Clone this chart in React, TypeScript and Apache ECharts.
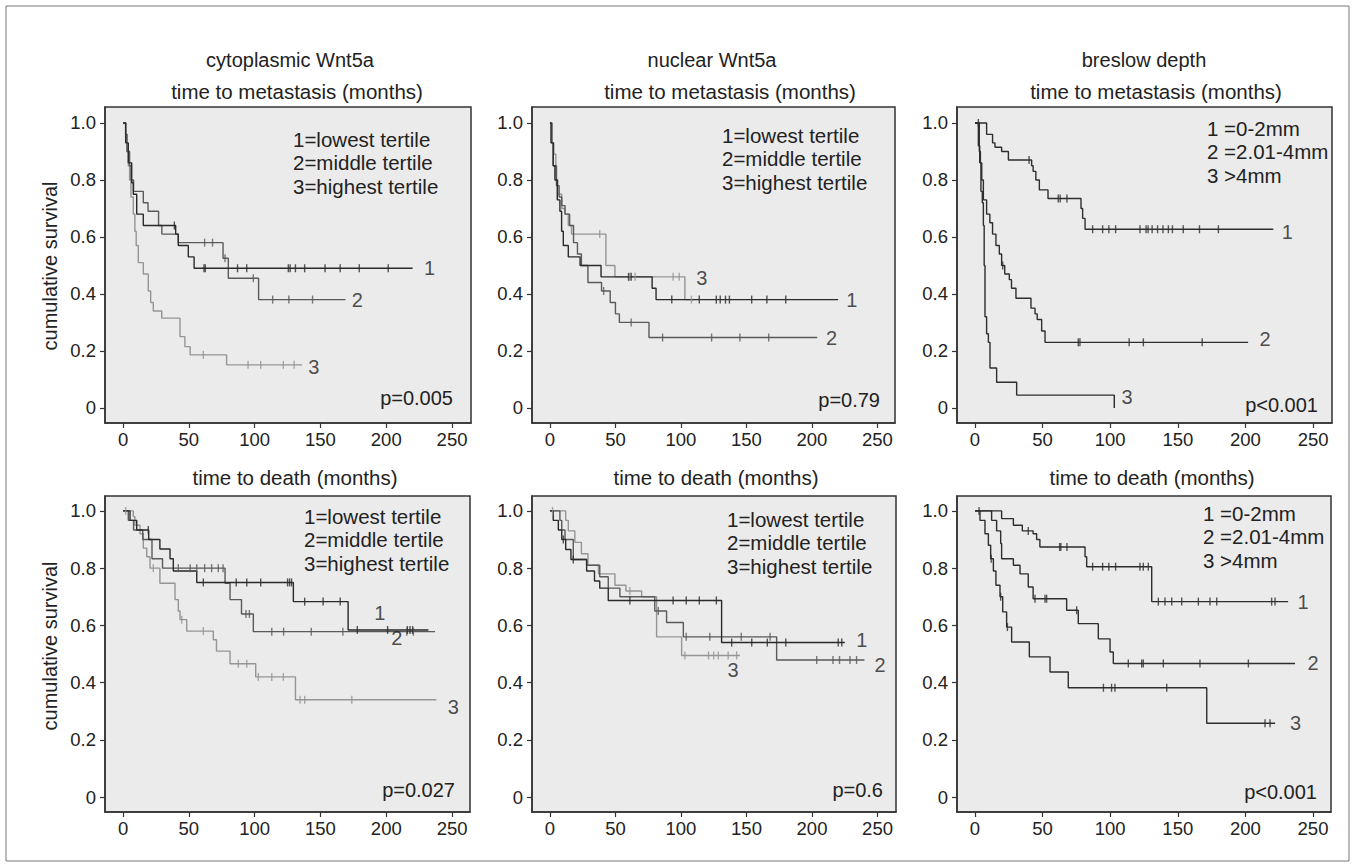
import React, { useEffect, useRef } from "react";
import * as echarts from "echarts";

type Pt = [number, number];

// ---------- tick labels / texts ----------
const xTicks = [0, 50, 100, 150, 200, 250];
const yTicks = [0, 0.2, 0.4, 0.6, 0.8, 1.0];
const columnTitles = ["cytoplasmic Wnt5a", "nuclear Wnt5a", "breslow depth"];
const rowTitles = ["time to metastasis (months)", "time to death (months)"];
const yAxisName = "cumulative survival";
const tertileLegend = ["1=lowest tertile", "2=middle tertile", "3=highest tertile"];
const breslowLegend = ["1 =0-2mm", "2 =2.01-4mm", "3 >4mm"];
const pValues = ["p=0.005", "p=0.79", "p<0.001", "p=0.027", "p=0.6", "p<0.001"];
const groupNames = ["1", "2", "3"];

// ---------- Kaplan-Meier step data [months, cumulative survival] ----------
// cytoplasmic Wnt5a, time to metastasis
const cytoMet1: Pt[] = [[0, 1], [2, 0.93], [4, 0.86], [6.6, 0.79], [7.8, 0.75], [10.4, 0.68], [15.4, 0.64], [40, 0.61], [42, 0.57], [49.6, 0.53], [54, 0.49], [220, 0.49]];
const cytoMet2: Pt[] = [[0, 1], [2, 0.96], [3, 0.9], [5, 0.85], [6, 0.8], [8, 0.76], [15.4, 0.72], [19, 0.69], [27, 0.64], [29.5, 0.61], [42, 0.58], [76, 0.525], [80, 0.455], [103, 0.38], [169, 0.38]];
const cytoMet3: Pt[] = [[0, 1], [2, 0.96], [3, 0.9], [4, 0.85], [5, 0.8], [6, 0.74], [7.8, 0.68], [9, 0.62], [10, 0.57], [11.6, 0.51], [15.4, 0.47], [19.2, 0.41], [21, 0.37], [23, 0.34], [29.4, 0.315], [43.3, 0.25], [47, 0.215], [51, 0.186], [78.7, 0.151], [136, 0.151]];
const cytoMet1Cens = [39, 61.5, 62.5, 87, 94, 125.6, 127, 131, 138, 153.5, 165, 179.5, 201.5];
const cytoMet2Cens = [62, 68, 77.5, 99, 113.7, 126, 144];
const cytoMet3Cens = [61, 95, 104.6, 121.8, 130];

// nuclear Wnt5a, time to metastasis
const nucMet1: Pt[] = [[0, 1], [0.8, 0.93], [2.5, 0.85], [3.8, 0.8], [5.6, 0.73], [7.6, 0.69], [8.9, 0.62], [10.2, 0.57], [14, 0.53], [23, 0.5], [39, 0.46], [78, 0.42], [81, 0.38], [220, 0.38]];
const nucMet2: Pt[] = [[0, 1], [1.5, 0.93], [2.5, 0.85], [5, 0.78], [7, 0.74], [9, 0.71], [11.5, 0.68], [15, 0.64], [18, 0.58], [21, 0.54], [24, 0.5], [29, 0.44], [39.4, 0.41], [46, 0.37], [50, 0.33], [53, 0.3], [75.6, 0.247], [204, 0.247]];
const nucMet3: Pt[] = [[0, 1], [1.5, 0.93], [3, 0.89], [4.5, 0.8], [6, 0.75], [9, 0.7], [11.5, 0.68], [14, 0.64], [16.5, 0.61], [42.7, 0.5], [49.6, 0.46], [103, 0.38], [110, 0.38]];
const nucMet1Cens = [60, 62, 93, 114, 127, 130, 134, 137, 154, 165.6, 180];
const nucMet2Cens = [41, 62, 86, 123.4, 145, 167];
const nucMet3Cens = [38, 61, 65, 94, 98.7, 108];

// breslow depth, time to metastasis
const bresMet1: Pt[] = [[0, 1], [8.6, 0.96], [13, 0.93], [14.8, 0.915], [19.7, 0.9], [24.7, 0.87], [41.9, 0.85], [43, 0.83], [45, 0.8], [47.6, 0.765], [54, 0.735], [78.4, 0.7], [79.6, 0.665], [81.4, 0.627], [220.6, 0.627]];
const bresMet2: Pt[] = [[0, 1], [3.2, 0.9], [4, 0.86], [5, 0.8], [6.2, 0.73], [8.6, 0.68], [11, 0.65], [13, 0.61], [15.5, 0.57], [18, 0.54], [19.7, 0.5], [22, 0.47], [25.4, 0.45], [27, 0.42], [30.3, 0.385], [41.4, 0.35], [44.4, 0.33], [46, 0.31], [49.3, 0.27], [51.8, 0.23], [202, 0.23]];
const bresMet3: Pt[] = [[0, 1], [2.5, 0.92], [3.5, 0.86], [4.4, 0.76], [5.4, 0.72], [6.2, 0.64], [6.8, 0.5], [7.4, 0.32], [8.6, 0.26], [9.9, 0.23], [11.1, 0.14], [16, 0.09], [30.8, 0.045], [103, 0]];
const bresMet1Cens = [2.5, 40, 61.6, 63, 68, 87, 94.4, 99, 104, 122, 126.5, 128, 131, 135, 139, 143, 146, 154, 166, 180];
const bresMet2Cens = [20.5, 76.4, 77.6, 114, 124.5, 168];
const bresMet3Cens: number[] = [];

// cytoplasmic Wnt5a, time to death
const cytoDeath1: Pt[] = [[0, 1], [5.3, 0.967], [10.4, 0.933], [19.5, 0.9], [28, 0.867], [35.7, 0.833], [38.2, 0.79], [56, 0.75], [129.4, 0.683], [171, 0.584], [232, 0.584]];
const cytoDeath2: Pt[] = [[0, 1], [4, 0.967], [8, 0.933], [15, 0.9], [22, 0.833], [30, 0.8], [77.5, 0.747], [81.3, 0.69], [90, 0.64], [99, 0.578], [237, 0.578]];
const cytoDeath3: Pt[] = [[0, 1], [7.8, 0.98], [9, 0.95], [12.9, 0.92], [15.4, 0.87], [18, 0.84], [20.5, 0.8], [28, 0.747], [39.5, 0.69], [42, 0.65], [43.3, 0.62], [48.4, 0.58], [68.6, 0.55], [71, 0.51], [81.3, 0.466], [100.8, 0.42], [131, 0.34], [238, 0.34]];
const cytoDeath1Cens = [19.2, 61, 86, 94, 104.6, 125, 126.5, 128, 138, 152, 165, 178, 201, 216, 218, 220];
const cytoDeath2Cens = [42, 51, 56, 62, 67.3, 72.4, 76, 93.4, 96, 113, 122, 143, 167, 215.6, 220.6];
const cytoDeath3Cens = [2, 23, 44.6, 61, 87.6, 94, 102.8, 113, 121.8, 134.5, 138, 173.8];

// nuclear Wnt5a, time to death
const nucDeath1: Pt[] = [[0, 1], [2.5, 0.967], [6.4, 0.933], [9, 0.9], [12, 0.865], [16, 0.83], [28, 0.79], [34, 0.755], [38, 0.73], [44.5, 0.687], [131, 0.54], [225, 0.54]];
const nucDeath2: Pt[] = [[0, 1], [7.6, 0.967], [9, 0.933], [11.5, 0.9], [17.8, 0.83], [28, 0.81], [38, 0.77], [44.5, 0.73], [53.4, 0.7], [80, 0.65], [89, 0.61], [101.8, 0.56], [173, 0.479], [240, 0.479]];
const nucDeath3: Pt[] = [[0, 1], [12, 0.967], [14, 0.93], [19, 0.89], [24, 0.85], [29, 0.81], [37, 0.78], [49.6, 0.74], [58, 0.72], [70, 0.7], [81.4, 0.56], [100.5, 0.495], [145, 0.495]];
const nucDeath1Cens = [10.2, 17.8, 61, 94, 104, 114, 127, 138.7, 154, 165.9, 180, 220, 222.7];
const nucDeath2Cens = [82.7, 104, 122, 146, 168, 203.6, 216, 221, 229, 234];
const nucDeath3Cens = [2, 61, 103, 121, 125, 128.5, 136, 142.5];

// breslow depth, time to death
const bresDeath1: Pt[] = [[0, 1], [19.7, 0.973], [28.4, 0.95], [35, 0.93], [43, 0.92], [45.6, 0.9], [48, 0.874], [81.4, 0.84], [82.6, 0.805], [130.7, 0.683], [231.6, 0.683]];
const bresDeath2: Pt[] = [[0, 1], [12.3, 0.967], [16, 0.93], [19, 0.886], [19.7, 0.833], [28.4, 0.81], [33.3, 0.78], [39.4, 0.734], [43, 0.693], [67.8, 0.653], [76.4, 0.606], [91.2, 0.553], [99.9, 0.507], [102.3, 0.467], [236.7, 0.467]];
const bresDeath3: Pt[] = [[0, 1], [3.7, 0.967], [7.4, 0.92], [9.9, 0.88], [11.6, 0.833], [13.6, 0.79], [15.5, 0.74], [18.5, 0.7], [20.5, 0.647], [23.4, 0.594], [27.1, 0.542], [40.2, 0.49], [55.5, 0.437], [69, 0.382], [171.4, 0.258], [222, 0.258]];
const bresDeath1Cens = [3, 39.4, 62.6, 63.5, 68, 87, 94.4, 99, 104, 122, 124.5, 128.2, 135.6, 140.5, 145.5, 152.9, 165.2, 173.8, 178.8, 219.4, 221.9];
const bresDeath2Cens = [44.4, 51.8, 53, 75.2, 113.4, 123.3, 124.5, 139.3, 166.4, 202.2];
const bresDeath3Cens = [12, 19, 24, 95, 101, 103.5, 141.8, 214.5, 218.2];

// ---------- layout / style ----------
const FONT = "'Liberation Sans', Arial, Helvetica, sans-serif";
const GREYS = ["#2a2a2a", "#5a5a5a", "#959595"];
const DARKS = ["#2e2e2e", "#2e2e2e", "#2e2e2e"];

const panels = [
  { curves: [cytoMet1, cytoMet2, cytoMet3], cens: [cytoMet1Cens, cytoMet2Cens, cytoMet3Cens], colors: GREYS,
    grid: { left: 105, top: 107, width: 366, height: 316 }, xr: [-13.7, 264.4], yr: [-0.053, 1.056],
    legend: tertileLegend, lx: 293, ly: 139, p: pValues[0], px: 453, py: 398, sx: 297, sy: 91,
    lab: [[233, 0.49], [178, 0.38], [145, 0.144]] as Pt[] },
  { curves: [nucMet1, nucMet2, nucMet3], cens: [nucMet1Cens, nucMet2Cens, nucMet3Cens], colors: GREYS,
    grid: { left: 532, top: 107, width: 363, height: 316 }, xr: [-13.7, 263.4], yr: [-0.053, 1.056],
    legend: tertileLegend, lx: 722, ly: 135, p: pValues[1], px: 880, py: 400, sx: 730, sy: 91,
    lab: [[230.5, 0.38], [215, 0.246], [116, 0.456]] as Pt[] },
  { curves: [bresMet1, bresMet2, bresMet3], cens: [bresMet1Cens, bresMet2Cens, bresMet3Cens], colors: DARKS,
    grid: { left: 957, top: 107, width: 375, height: 316 }, xr: [-13.3, 264], yr: [-0.053, 1.056],
    legend: breslowLegend, lx: 1207, ly: 128, p: pValues[2], px: 1318, py: 405, sx: 1156, sy: 91,
    lab: [[231, 0.617], [214.5, 0.242], [112.4, 0.039]] as Pt[] },
  { curves: [cytoDeath1, cytoDeath2, cytoDeath3], cens: [cytoDeath1Cens, cytoDeath2Cens, cytoDeath3Cens], colors: GREYS,
    grid: { left: 105, top: 496, width: 365, height: 316 }, xr: [-13.7, 263.6], yr: [-0.052, 1.052],
    legend: tertileLegend, lx: 304, ly: 516, p: pValues[3], px: 455, py: 790, sx: 295, sy: 477,
    lab: [[195, 0.643], [208, 0.556], [251, 0.315]] as Pt[] },
  { curves: [nucDeath1, nucDeath2, nucDeath3], cens: [nucDeath1Cens, nucDeath2Cens, nucDeath3Cens], colors: GREYS,
    grid: { left: 532, top: 496, width: 364, height: 316 }, xr: [-13.7, 264.1], yr: [-0.052, 1.052],
    legend: tertileLegend, lx: 727, ly: 519, p: pValues[4], px: 883, py: 790, sx: 716, sy: 477,
    lab: [[238, 0.549], [252, 0.46], [139.7, 0.444]] as Pt[] },
  { curves: [bresDeath1, bresDeath2, bresDeath3], cens: [bresDeath1Cens, bresDeath2Cens, bresDeath3Cens], colors: DARKS,
    grid: { left: 957, top: 496, width: 374, height: 316 }, xr: [-13.3, 263.3], yr: [-0.052, 1.052],
    legend: breslowLegend, lx: 1203, ly: 513, p: pValues[5], px: 1317, py: 792, sx: 1152, sy: 477,
    lab: [[242.6, 0.68], [250, 0.468], [237, 0.259]] as Pt[] },
];
const titleX = [290, 712, 1144];

function survAt(curve: Pt[], t: number): number {
  let s = curve[0][1];
  for (const [ct, cs] of curve) {
    if (ct <= t) s = cs;
    else break;
  }
  return s;
}

export default function App() {
  const ref = useRef<HTMLDivElement>(null);

  useEffect(() => {
    if (!ref.current) return;
    const chart = echarts.init(ref.current, undefined, { renderer: "svg" });

    const grids: any[] = [];
    const xAxes: any[] = [];
    const yAxes: any[] = [];
    const series: any[] = [];
    const graphics: any[] = [];

    panels.forEach((p, i) => {
      grids.push({
        ...p.grid, show: true, backgroundColor: "#ebebeb", borderColor: "#333", borderWidth: 1.5,
        containLabel: false, outerBoundsMode: "none",
      });
      xAxes.push({
        type: "value", gridIndex: i, min: p.xr[0], max: p.xr[1],
        axisLine: { show: true, onZero: false, lineStyle: { color: "#333", width: 1.5 } },
        axisTick: { show: true, inside: false, length: 5, customValues: xTicks, lineStyle: { color: "#333", width: 1.2 } },
        axisLabel: { show: true, customValues: xTicks, fontSize: 18.5, color: "#222", fontFamily: FONT, margin: 7 },
        splitLine: { show: false },
      });
      yAxes.push({
        type: "value", gridIndex: i, min: p.yr[0], max: p.yr[1],
        axisLine: { show: true, onZero: false, lineStyle: { color: "#333", width: 1.5 } },
        axisTick: { show: true, inside: false, length: 5, customValues: yTicks, lineStyle: { color: "#333", width: 1.2 } },
        axisLabel: {
          show: true, customValues: yTicks, fontSize: 18.5, color: "#222", fontFamily: FONT, margin: 9,
          formatter: (v: number) => (Math.abs(v) < 1e-9 ? "0" : v.toFixed(1)),
        },
        splitLine: { show: false },
      });

      p.curves.forEach((curve, j) => {
        const color = p.colors[j];
        series.push({
          type: "line", xAxisIndex: i, yAxisIndex: i, data: curve, step: "end",
          showSymbol: false, symbol: "none", silent: true, z: 5 - j,
          lineStyle: { color, width: 1.4 },
        });
        series.push({
          type: "scatter", xAxisIndex: i, yAxisIndex: i, silent: true, z: 8 - j,
          data: p.cens[j].map((t) => [t, survAt(curve, t)]),
          symbol: "rect", symbolSize: [1.4, 8], itemStyle: { color },
        });
      });
      series.push({
        type: "scatter", xAxisIndex: i, yAxisIndex: i, silent: true, z: 10,
        data: p.lab.map((pt, k) => ({ value: pt, name: groupNames[k] })),
        symbolSize: 0,
        label: { show: true, position: "inside", formatter: "{b}", fontSize: 20, color: "#222", fontFamily: FONT },
      });

      graphics.push({
        type: "text", x: p.lx, y: p.ly - 11.75, z: 20,
        style: { text: p.legend.join("\n"), fontSize: 20.5, lineHeight: 23.5, fill: "#222", fontFamily: FONT, align: "left", verticalAlign: "top" },
      });
      graphics.push({
        type: "text", x: p.px, y: p.py, z: 20,
        style: { text: p.p, fontSize: 20, fill: "#222", fontFamily: FONT, align: "right", verticalAlign: "middle" },
      });
      graphics.push({
        type: "text", x: p.sx, y: p.sy, z: 20,
        style: { text: i < 3 ? rowTitles[0] : rowTitles[1], fontSize: 20.5, fill: "#222", fontFamily: FONT, align: "center", verticalAlign: "middle" },
      });
      if (i < 3) {
        graphics.push({
          type: "text", x: titleX[i], y: 60, z: 20,
          style: { text: columnTitles[i], fontSize: 20, fill: "#222", fontFamily: FONT, align: "center", verticalAlign: "middle" },
        });
      }
    });

    graphics.push({
      type: "text", x: 50, y: 266, rotation: Math.PI / 2, z: 20,
      style: { text: yAxisName, fontSize: 20, fill: "#222", fontFamily: FONT, align: "center", verticalAlign: "middle" },
    });
    graphics.push({
      type: "text", x: 50, y: 646, rotation: Math.PI / 2, z: 20,
      style: { text: yAxisName, fontSize: 20, fill: "#222", fontFamily: FONT, align: "center", verticalAlign: "middle" },
    });
    graphics.push({
      type: "rect", z: 0, shape: { x: 6, y: 6, width: 1343, height: 855 },
      style: { fill: "none", stroke: "#777", lineWidth: 1 },
    });

    chart.setOption({
      animation: false,
      backgroundColor: "#ffffff",
      textStyle: { fontFamily: FONT },
      grid: grids,
      xAxis: xAxes,
      yAxis: yAxes,
      series,
      graphic: graphics,
    });

    return () => chart.dispose();
  }, []);

  return (
    <div
      ref={ref}
      style={{ position: "absolute", left: 0, top: 0, width: 1355, height: 867, background: "#fff" }}
    />
  );
}
